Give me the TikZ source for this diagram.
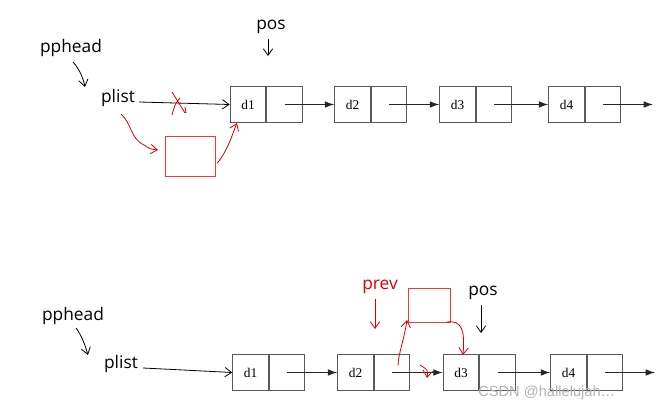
\documentclass[tikz,border=0pt]{standalone}
\usepackage{fontspec}
\usepackage{tikz}
\usetikzlibrary{positioning, arrows.meta}
\newfontfamily\labelfont{Open Sans}
\newfontfamily\cellfont{Liberation Serif}
\newfontfamily\markfont{Liberation Sans}

\tikzset{
  datacell/.style={draw=black!65, line width=0.9pt, minimum width=26.5pt, minimum height=27.5pt, inner sep=0pt, font=\cellfont\fontsize{10}{11}\selectfont},
  ptrcell/.style={datacell, right=0pt of #1},
  linkarrow/.style={-{Latex[length=7pt, width=5pt]}, line width=0.8pt, black!85},
  pen/.style={line width=0.6pt, -{Straight Barb[length=5pt, width=7pt]}},
  redpen/.style={pen, red!85!black},
  varlabel/.style={inner sep=0.75pt, font=\labelfont\fontsize{13}{15}\selectfont},
  newbox/.style={draw=red!80, line width=0.7pt, inner sep=0pt}
}

\begin{document}
\begin{tikzpicture}[x=0.75pt,y=0.75pt,yscale=-1,xscale=1]
\useasboundingbox (0,0) rectangle (660,413);

%% ---------------- top list ----------------
% cells
\node[datacell] (ta1) at (248,104.5) {d1};
\node[ptrcell=ta1] (tb1) {};
\node[datacell] (ta2) at (352.5,104.5) {d2};
\node[ptrcell=ta2] (tb2) {};
\node[datacell] (ta3) at (457.5,104.5) {d3};
\node[ptrcell=ta3] (tb3) {};
\node[datacell] (ta4) at (566.5,104.5) {d4};
\node[ptrcell=ta4] (tb4) {};
\coordinate (tend) at (653,104.5);

% links
\draw[linkarrow] (tb1.center) -- (ta2.west);
\draw[linkarrow] (tb2.center) -- (ta3.west);
\draw[linkarrow] (tb3.center) -- (ta4.west);
\draw[linkarrow] (tb4.center) -- (tend);

% labels
\node[varlabel] (tpphead) at (71,48) {pphead};
\node[varlabel] (tplist) at (118,98) {plist};
\node[varlabel] (tpos) at (271,27) {pos};

\draw[pen] (73,62) .. controls (80,70) and (83,78) .. (85,87);
\draw[pen] (tpos.south) ++(-3,4) -- ++(0,17);
\draw[pen] (tplist.east) ++(3,4) -- (ta1.west);

% new node, red
\node[newbox, minimum width=38pt, minimum height=30pt] (tnew) at (190.5,156) {};
\draw[red!85!black, line width=0.6pt] (172,92) -- (185,113) (180,98) .. controls (175,104) .. (172,115) (185,107) -- (186,113);
\draw[redpen] (121,114) .. controls (132,124) and (130,138) .. (144,145) .. controls (150,149) .. (158,150);
\draw[redpen] (tnew.east) ++(1,7) .. controls (228,150) and (232,135) .. (237,123);

%% ---------------- bottom list ----------------
% cells
\node[datacell] (ba1) at (250.5,372.5) {d1};
\node[ptrcell=ba1] (bb1) {};
\node[datacell] (ba2) at (355.5,372.5) {d2};
\node[ptrcell=ba2] (bb2) {};
\node[datacell] (ba3) at (461,372.5) {d3};
\node[ptrcell=ba3] (bb3) {};
\node[datacell] (ba4) at (568.5,372.5) {d4};
\node[ptrcell=ba4] (bb4) {};
\coordinate (bend) at (655,372.5);

% links
\draw[linkarrow] (bb1.center) -- (ba2.west);
\draw[linkarrow] (bb2.center) -- (ba3.west);
\draw[linkarrow] (bb3.center) -- (ba4.west);
\draw[linkarrow] (bb4.center) -- (bend);

% labels
\node[varlabel] (bpphead) at (73,316) {pphead};
\node[varlabel] (bplist) at (121,364) {plist};
\node[varlabel] (bpos) at (483,293) {pos};
\node[varlabel, text=red!85!black] (bprev) at (380,287) {prev};

\draw[pen] (76,328) .. controls (82,336) and (85,345) .. (88,355);
\draw[pen] (bplist.east) ++(4,4) -- (ba1.west);
\draw[pen] (bpos.south) ++(-2,4) -- ++(0,28);
\draw[redpen] (bprev.south) ++(-5,4) -- ++(0,30);

% new node, red
\node[newbox, minimum width=31pt, minimum height=25.5pt] (bnew) at (429.5,305) {};
\draw[redpen] (bb2.center) ++(6,-7) .. controls (398,355) and (404,340) .. (407,320);
\draw[redpen] (bnew.east) ++(-4,17) .. controls (462,320) and (465,330) .. (463,355);
\draw[redpen] (420,365) .. controls (428,370) .. (427,378);

% watermark
\node[inner sep=0pt, anchor=west, text=black!30, font=\markfont\fontsize{11}{12}\selectfont] (wm) at (478,393) {CSDN @hallelujah…};
\end{tikzpicture}
\end{document}
